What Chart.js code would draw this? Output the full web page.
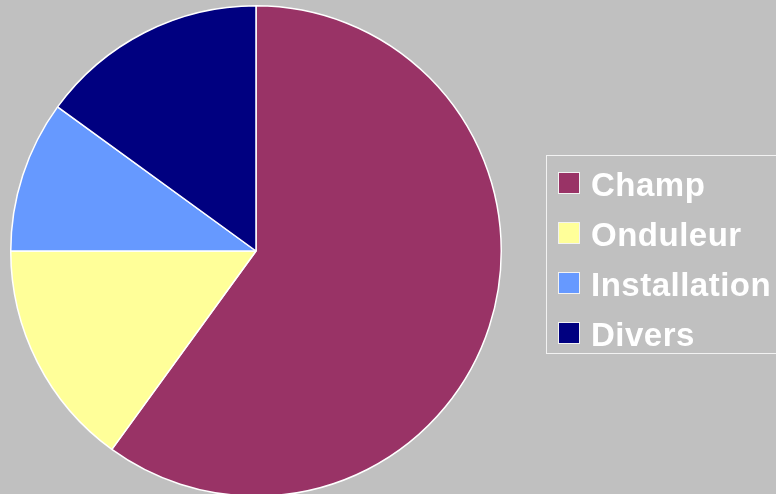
<!DOCTYPE html>
<html>
<head>
<meta charset="utf-8">
<script src="https://cdn.jsdelivr.net/npm/chart.js@4"></script>
<style>
  html, body { margin: 0; padding: 0; background: #c0c0c0; }
  #wrap { position: relative; width: 776px; height: 494px; overflow: hidden; }
  #pie { display: block; }
  #legend {
    position: absolute; left: 546px; top: 155px; width: 240px; height: 193px;
    border: 1px solid #f2f2f2; padding-top: 4px; box-sizing: content-box;
    font-family: "Liberation Sans", Arial, sans-serif; font-weight: bold;
    font-size: 33px; letter-spacing: 0.5px; color: #fff;
  }
  .row { position: relative; height: 50px; line-height: 50px; white-space: nowrap; }
  .sw { position: absolute; left: 11px; top: 12px; width: 20px; height: 20px; border: 1px solid #f2f2f2; }
  .lbl { position: absolute; left: 44px; top: 0; }
</style>
</head>
<body>
<div id="wrap">
  <canvas id="pie" width="776" height="500"></canvas>
  <div id="legend"></div>
</div>
<script>
const categories = ['Champ', 'Onduleur', 'Installation', 'Divers'];
const shares = [60, 15, 10, 15];
const colors = ['#993366', '#ffff99', '#6699ff', '#000080'];

window.addEventListener('DOMContentLoaded', () => {
    const ctx = document.getElementById('pie').getContext('2d');
    new Chart(ctx, {
        type: 'pie',
        data: {
            labels: categories,
            datasets: [{
                data: shares,
                backgroundColor: colors,
                borderColor: '#ffffff',
                borderWidth: 1.5,
                hoverOffset: 0
            }]
        },
        options: {
            responsive: false,
            animation: false,
            // canvas is a bit taller than the page so the pie can touch the bottom edge
            layout: { padding: { left: 10, top: 5, right: 274, bottom: 3 } },
            plugins: {
                legend: { display: false },
                tooltip: { enabled: false }
            }
        }
    });

    // legend drawn as html to get the boxed look of the original
    const legend = document.getElementById('legend');
    categories.forEach((name, i) => {
        const row = document.createElement('div');
        row.className = 'row';
        const sw = document.createElement('span');
        sw.className = 'sw';
        sw.style.background = colors[i];
        const lbl = document.createElement('span');
        lbl.className = 'lbl';
        lbl.textContent = name;
        row.appendChild(sw);
        row.appendChild(lbl);
        legend.appendChild(row);
    });
});
</script>
</body>
</html>
